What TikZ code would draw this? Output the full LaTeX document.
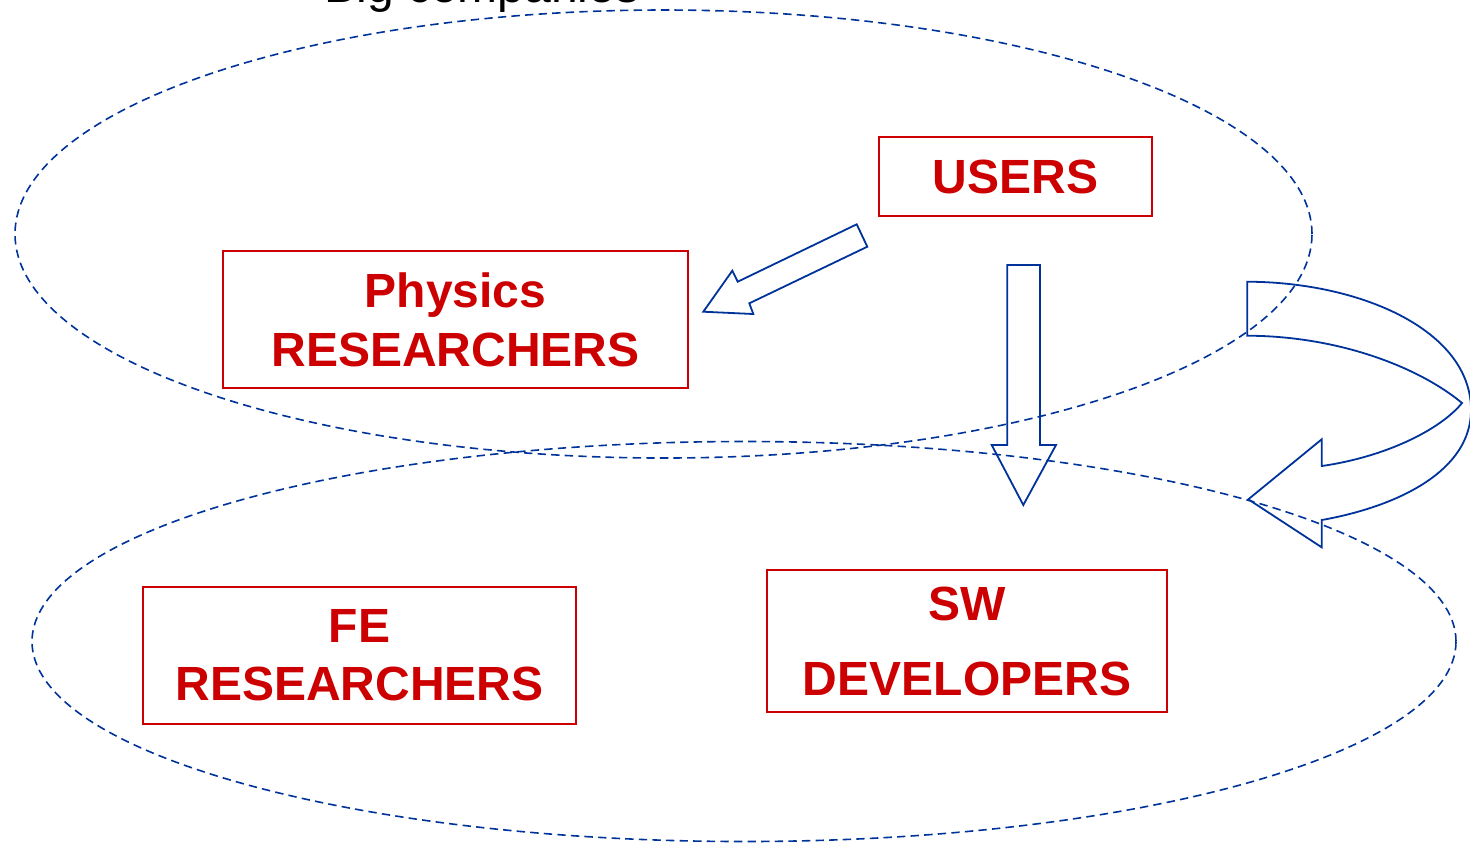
\documentclass[tikz,border=0pt]{standalone}
\usepackage{fontspec}
\setmainfont{Liberation Sans}
\definecolor{boxred}{RGB}{204,0,0}
\definecolor{lineblue}{RGB}{0,51,153}
\tikzset{
  redbox/.style={draw=boxred, line width=1pt, text=boxred, font=\bfseries, align=center, inner sep=0pt},
  dashline/.style={draw=lineblue, line width=0.8pt, dash pattern=on 4.2pt off 2.6pt},
  blockarrow/.style={draw=lineblue, line width=0.9pt, line join=miter},
}
\begin{document}
\begin{tikzpicture}[x=0.5pt, y=-0.5pt]
\useasboundingbox (0,0) rectangle (1470,843);
% ellipses
\draw[dashline] (663.5,234) ellipse [x radius=324.25pt, y radius=112pt];
\draw[dashline] (744,641.5) ellipse [x radius=356pt, y radius=100pt];
% title
\node[anchor=base, font=\fontsize{24}{28}\selectfont, inner sep=0pt] (title) at (482,2) {Big companies};
% boxes
\node[redbox, minimum width=136.5pt, minimum height=39.5pt, font=\bfseries\fontsize{24}{28}\selectfont] (users) at (1015.5,176.5) {USERS};
\node[redbox, minimum width=232.5pt, minimum height=68.5pt, font=\bfseries\fontsize{24}{29.5}\selectfont] (phys) at (455.5,319.5) {Physics\\RESEARCHERS};
\node[redbox, minimum width=216.5pt, minimum height=68.5pt, font=\bfseries\fontsize{24}{29}\selectfont] (fe) at (359.5,655.5) {FE\\RESEARCHERS};
\node[redbox, minimum width=200pt, minimum height=71pt, font=\bfseries\fontsize{24}{37.5}\selectfont] (sw) at (967,641) {SW\\DEVELOPERS};
% diagonal arrow
\draw[blockarrow] (703.3,311.7) -- (732.3,270.7) -- (737.7,281.7) -- (856.7,224.3) -- (867.3,246.7) -- (749.3,303.3) -- (753.3,314) -- cycle;
% down arrow
\draw[blockarrow] (1007.3,265) -- (1040,265) -- (1040,445) -- (1056,445) -- (1023.3,505) -- (991.7,445) -- (1007.3,445) -- cycle;
% curved arrow
\draw[blockarrow] (1247.3,281.7) -- (1247.3,335.7)
  .. controls (1340,336) and (1420,368) .. (1462,403)
  .. controls (1440,430) and (1385,457) .. (1321.7,466)
  -- (1321.7,439.3) -- (1248.3,499.3) -- (1321.7,547.3) -- (1321.7,520)
  .. controls (1400,506) and (1471,470) .. (1471,410)
  .. controls (1471,330) and (1360,282) .. cycle;
\end{tikzpicture}
\end{document}
